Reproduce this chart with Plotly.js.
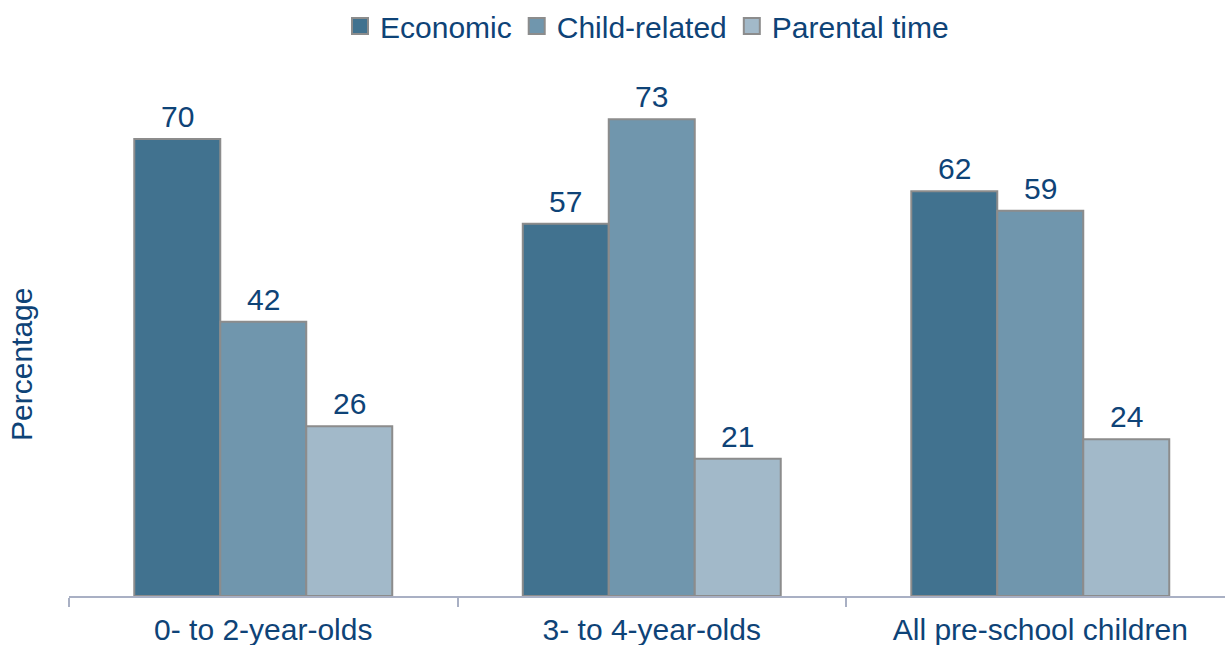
<!DOCTYPE html>
<html>
<head>
<meta charset="utf-8">
<script src="https://cdn.plot.ly/plotly-3.0.1.min.js"></script>
<style>html,body{margin:0;padding:0;background:#fff;}#chart{width:1225px;height:645px;}</style>
</head>
<body>
<div id="chart"></div>
<script>
var categories = ["0- to 2-year-olds", "3- to 4-year-olds", "All pre-school children"];
var economic = [70, 57, 62];
var childRelated = [42, 73, 59];
var parentalTime = [26, 21, 24];
var seriesNames = ["Economic", "Child-related", "Parental time"];
var seriesColors = ["#41728f", "#7096ad", "#a2b9c9"];
var yTitle = "Percentage";

var textColor = "#0e4377";
var borderColor = "#8c8c8c";
var fontFam = "Liberation Sans, Arial, sans-serif";
var fs = 30;
var bargap = 0.336;
var vals = [economic, childRelated, parentalTime];

var traces = vals.map(function (v, i) {
  return {
    type: "bar",
    name: seriesNames[i],
    x: categories,
    y: v,
    showlegend: false,
    marker: {color: seriesColors[i], line: {color: borderColor, width: 2}},
    hoverinfo: "skip"
  };
});
// legend entries with larger square swatches
vals.forEach(function (v, i) {
  traces.push({
    type: "scatter", mode: "markers", name: seriesNames[i],
    x: [null], y: [null], showlegend: true,
    marker: {symbol: "square", size: 16, color: seriesColors[i], line: {color: borderColor, width: 2}},
    hoverinfo: "skip"
  });
});

// value labels above bars
var barW = (1 - bargap) / vals.length;
var annotations = [];
vals.forEach(function (v, s) {
  v.forEach(function (val, c) {
    annotations.push({
      xref: "x", yref: "y",
      x: c + (s - (vals.length - 1) / 2) * barW,
      y: val,
      text: String(val),
      showarrow: false,
      yanchor: "bottom",
      yshift: 4,
      font: {size: fs, color: textColor, family: fontFam}
    });
  });
});
// y axis title
annotations.push({
  xref: "paper", yref: "paper", x: 0, y: 0.431, xanchor: "center", yanchor: "middle",
  xshift: -47, textangle: -90, showarrow: false, text: yTitle,
  font: {size: fs, color: textColor, family: fontFam}
});

var layout = {
  width: 1225, height: 645,
  margin: {l: 69, r: 0, t: 60, b: 49},
  paper_bgcolor: "#ffffff", plot_bgcolor: "#ffffff",
  font: {family: fontFam, color: textColor, size: fs},
  barmode: "group",
  bargap: bargap,
  bargroupgap: 0,
  showlegend: true,
  annotations: annotations,
  legend: {orientation: "h", xref: "paper", x: 0.5, xanchor: "center", yref: "container", y: 1.0, yanchor: "top",
           font: {size: fs, color: textColor, family: fontFam}, itemwidth: 30, tracegroupgap: 0},
  xaxis: {
    type: "category",
    range: [-0.5, 2.4755],
    showline: true, linecolor: "#a9b0c4", linewidth: 2,
    ticks: "outside", tickson: "boundaries", ticklen: 9, tickcolor: "#a9b0c4", tickwidth: 2,
    ticklabelstandoff: 6,
    tickfont: {size: fs, color: textColor, family: fontFam},
    showgrid: false, zeroline: false, fixedrange: true
  },
  yaxis: {
    range: [0, 82.08],
    showticklabels: false, showgrid: false, zeroline: false, showline: false, ticks: "",
    fixedrange: true
  }
};

Plotly.newPlot("chart", traces, layout, {displayModeBar: false, staticPlot: true});
</script>
</body>
</html>
